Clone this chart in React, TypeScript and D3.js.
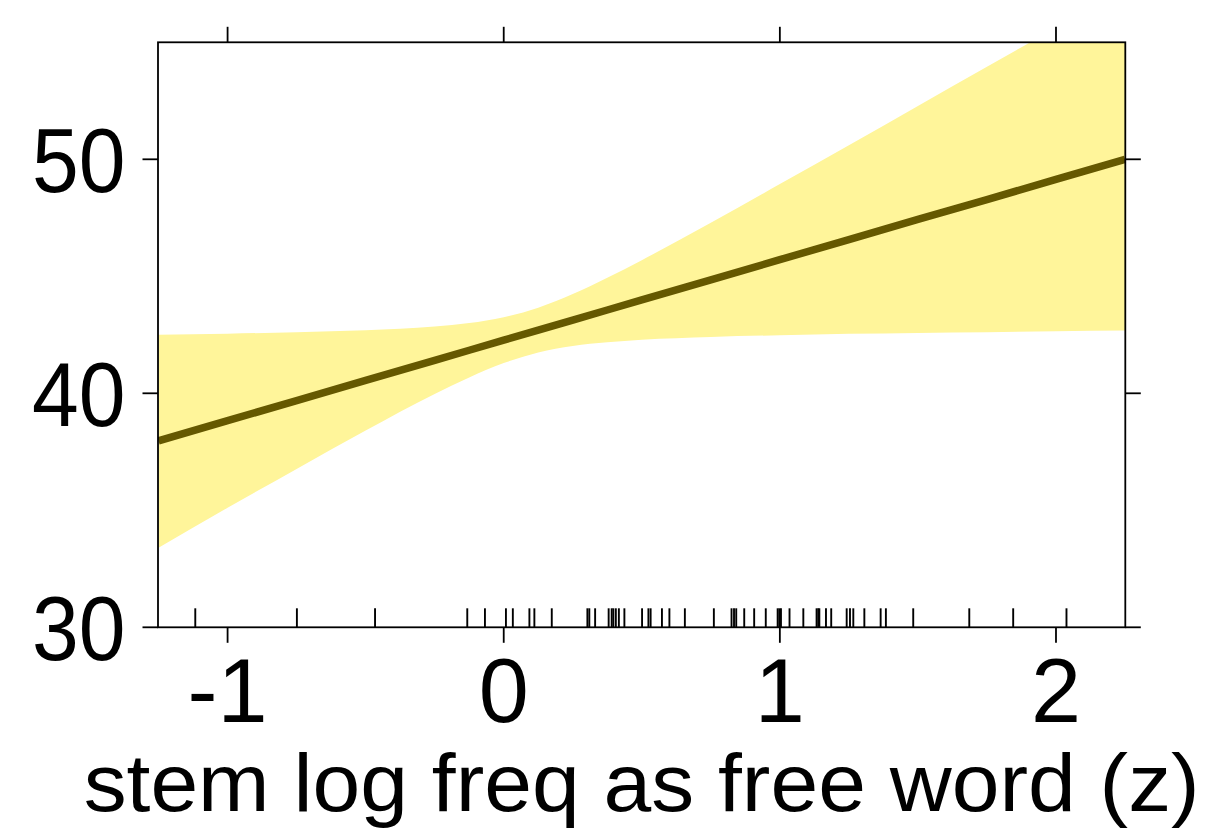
import React from "react";
import * as d3 from "d3";

// ---- data ----
const gridX = [-1.25, -1.0, -0.75, -0.5, -0.25, -0.125, 0, 0.125, 0.25, 0.375, 0.5, 0.75, 1.0, 1.25, 1.5, 1.75, 2.0, 2.25];
const fitY = [37.97, 38.83, 39.69, 40.55, 41.41, 41.84, 42.27, 42.70, 43.13, 43.56, 43.99, 44.85, 45.71, 46.57, 47.43, 48.28, 49.14, 50.0];
const upperY = [42.50, 42.55, 42.61, 42.69, 42.85, 43.00, 43.25, 43.66, 44.24, 44.94, 45.69, 47.29, 48.94, 50.60, 52.28, 53.95, 55.63, 57.32];
const lowerY = [33.40, 35.11, 36.77, 38.41, 39.97, 40.68, 41.29, 41.74, 42.02, 42.18, 42.29, 42.41, 42.48, 42.54, 42.58, 42.61, 42.65, 42.68];

const rugX = [
  -1.117, -0.749, -0.466, -0.132, -0.068, 0.008, 0.033, 0.093, 0.111, 0.174,
  0.303, 0.31, 0.331, 0.38, 0.391, 0.397, 0.406, 0.417, 0.437, 0.501, 0.524,
  0.532, 0.573, 0.6, 0.656, 0.761, 0.825, 0.834, 0.842, 0.871, 0.907, 0.949,
  0.992, 0.998, 1.004, 1.035, 1.085, 1.133, 1.139, 1.143, 1.167, 1.186, 1.242,
  1.254, 1.266, 1.306, 1.365, 1.384, 1.483, 1.686, 1.845, 2.038,
];

const xTicks = [-1, 0, 1, 2];
const yTicks = [30, 40, 50];
const xDomain = [-1.252, 2.251];
const yDomain = [30, 55];
const xTitle = "stem log freq as free word (z)";

export default function App() {
  const W = 1208;
  const H = 828;
  const left = 158, right = 1125.3, top = 42.3, bottom = 627.3;
  const x = d3.scaleLinear().domain(xDomain).range([left, right]);
  const y = d3.scaleLinear().domain(yDomain).range([bottom, top]);

  const pts = gridX.map((gx, i) => ({ x: gx, f: fitY[i], u: upperY[i], l: lowerY[i] }));
  const area = d3
    .area<any>()
    .x((d) => x(d.x))
    .y0((d) => y(d.l))
    .y1((d) => y(d.u))
    .curve(d3.curveMonotoneX);
  const line = d3
    .line<any>()
    .x((d) => x(d.x))
    .y((d) => y(d.f));

  const font = "'Liberation Sans', Arial, Helvetica, sans-serif";
  const tickLen = 15.5;
  const sw = 1.8;

  return (
    <svg
      width={W}
      height={H}
      style={{ position: "fixed", left: 0, top: 0, background: "#fff" }}
      fontFamily={font}
    >
      <defs>
        <clipPath id="plotclip">
          <rect x={left} y={top} width={right - left} height={bottom - top} />
        </clipPath>
      </defs>
      <g clipPath="url(#plotclip)">
        <path d={area(pts) || ""} fill="#fff59a" stroke="none" />
        <path d={line(pts) || ""} fill="none" stroke="#655800" strokeWidth={7.5} />
      </g>
      {/* rug */}
      {rugX.map((r, i) => (
        <line key={"r" + i} x1={x(r)} x2={x(r)} y1={bottom} y2={bottom - 19} stroke="#000" strokeWidth={1.9} />
      ))}
      {/* frame */}
      <rect x={left} y={top} width={right - left} height={bottom - top} fill="none" stroke="#000" strokeWidth={sw} />
      {/* x ticks bottom and top */}
      {xTicks.map((t) => (
        <g key={"xt" + t}>
          <line x1={x(t)} x2={x(t)} y1={bottom} y2={bottom + tickLen} stroke="#000" strokeWidth={sw} />
          <line x1={x(t)} x2={x(t)} y1={top} y2={top - tickLen} stroke="#000" strokeWidth={sw} />
          <text x={x(t)} y={722} textAnchor="middle" fontSize={90} fill="#000">
            {String(t)}
          </text>
        </g>
      ))}
      {/* y ticks left and right */}
      {yTicks.map((t) => (
        <g key={"yt" + t}>
          <line x1={left} x2={left - tickLen} y1={y(t)} y2={y(t)} stroke="#000" strokeWidth={sw} />
          <line x1={right} x2={right + tickLen} y1={y(t)} y2={y(t)} stroke="#000" strokeWidth={sw} />
          <text
            x={125.5}
            y={y(t) + 32.5}
            textAnchor="end"
            fontSize={90}
            textLength={93.5}
            lengthAdjust="spacingAndGlyphs"
            fill="#000"
          >
            {String(t)}
          </text>
        </g>
      ))}
      <text
        x={(left + right) / 2}
        y={811}
        textAnchor="middle"
        fontSize={81}
        textLength={1116}
        lengthAdjust="spacingAndGlyphs"
        fill="#000"
      >
        {xTitle}
      </text>
    </svg>
  );
}
